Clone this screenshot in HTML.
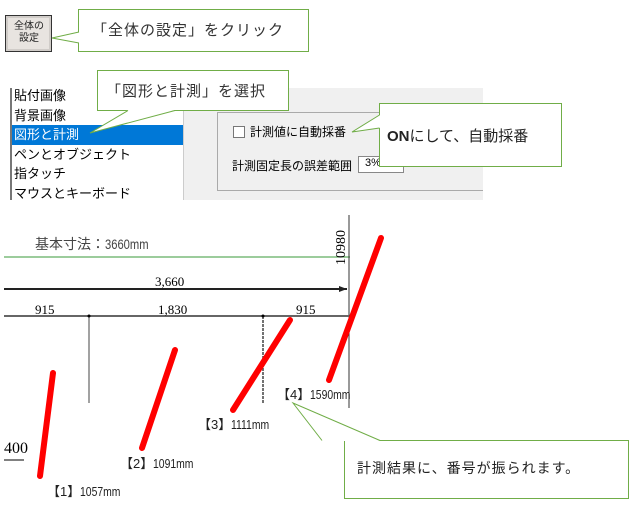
<!DOCTYPE html>
<html><head><meta charset="utf-8"><style>
body{margin:0;background:#fff;width:637px;height:518px;overflow:hidden;position:relative;font-family:"Liberation Sans","Noto Sans CJK JP",sans-serif;}
.a{position:absolute;white-space:nowrap;}
.s{font-family:"Liberation Serif","Noto Serif CJK SC",serif;}
.n{font-family:"Liberation Sans Narrow","Liberation Sans","Noto Sans CJK JP",sans-serif;transform:scaleX(0.8);transform-origin:left;}
</style></head><body>
<div class="a" style="left:5px;top:15px;width:47px;height:37px;background:#e8e4e0;border:1px solid #333;box-sizing:border-box;box-shadow:inset 0 0 0 2px #d0ccc8"></div>
<div class="a" style="left:11px;top:21px;font-size:10px;line-height:12px;color:#222;text-align:center;width:36px">全体の<br>設定</div>
<div class="a" style="left:180px;top:88px;width:303px;height:112px;background:#f0f0f0"></div>
<div class="a" style="left:10px;top:88px;width:171px;height:112px;background:#fff;border-left:2px solid #777;border-right:1px solid #ccc;overflow:hidden">
<div style="font-size:13px;line-height:19.5px;color:#000;margin-top:-2px">
<div style="padding-left:2px">貼付画像</div>
<div style="padding-left:2px">背景画像</div>
<div style="padding-left:2px;background:#0078d7;color:#fff">図形と計測</div>
<div style="padding-left:2px">ペンとオブジェクト</div>
<div style="padding-left:2px">指タッチ</div>
<div style="padding-left:2px">マウスとキーボード</div>
</div></div>
<div class="a" style="left:217px;top:112px;width:266px;height:79px;border:1px solid #aaa;border-right:none;box-sizing:border-box"></div>
<div class="a" style="left:233px;top:126px;width:10px;height:10px;border:1px solid #777;background:#fff"></div>
<div class="a" style="left:250px;top:123px;font-size:12px;color:#000">計測値に自動採番</div>
<div class="a" style="left:232px;top:157px;font-size:12px;color:#000">計測固定長の誤差範囲</div>
<div class="a" style="left:358px;top:156px;width:46px;height:17px;border:1px solid #888;background:#fff;font-size:11px;box-sizing:border-box;padding-left:6px">3%</div>

<svg class="a" style="left:0;top:0" width="637" height="518">
<line x1="4" y1="257" x2="350" y2="257" stroke="#3a9a3a" stroke-width="1"/>
<line x1="349" y1="215" x2="349" y2="408" stroke="#333" stroke-width="1"/>
<line x1="4" y1="289" x2="347" y2="289" stroke="#222" stroke-width="2"/>
<polygon points="347,289 339,286 339,292" fill="#222"/>
<line x1="4" y1="316" x2="349" y2="316" stroke="#666" stroke-width="2"/>
<line x1="89" y1="316" x2="89" y2="403" stroke="#444" stroke-width="1"/>
<line x1="263" y1="316" x2="263" y2="403" stroke="#444" stroke-width="1.5" stroke-dasharray="3,1"/>
<circle cx="89" cy="316" r="1.5" fill="#000"/><circle cx="263" cy="316" r="1.5" fill="#000"/>
<g stroke="#f00" stroke-width="6" stroke-linecap="round">
<line x1="53" y1="373" x2="40" y2="476"/>
<line x1="175" y1="350" x2="142" y2="448"/>
<line x1="290" y1="320" x2="233" y2="410"/>
<line x1="381" y1="238" x2="329" y2="380"/>
</g>
<line x1="4" y1="460" x2="24" y2="460" stroke="#000" stroke-width="1"/>
<text x="345" y="265" transform="rotate(-90 345 265)" font-family="Liberation Serif" font-size="14" fill="#000">10980</text>
<g fill="#fff" stroke="#70ad47" stroke-width="1">
<rect x="78.5" y="9.5" width="230" height="42"/>
<polygon points="79,32 52,38 79,43" stroke="none"/>
<polyline points="79,32 52,38 79,43" fill="none"/>
<rect x="97.5" y="70.5" width="191" height="40"/>
<polygon points="128,110 90,133 175,110" stroke="none"/>
<polyline points="128,110.5 90,133 175,110.5" fill="none"/>
<rect x="379.5" y="103.5" width="182" height="63"/>
<polygon points="380,115 352,132 380,128" stroke="none"/>
<polyline points="379.5,115 352,132 379.5,128" fill="none"/>
<rect x="344.5" y="440.5" width="284" height="58"/>
<polygon points="322,441 293,403 380,441" stroke="none"/>
<polyline points="322,440.5 293,403 380,440.5" fill="none"/>
</g>
</svg>
<div class="a" style="left:92px;top:19px;font-size:15px;color:#333;letter-spacing:1px">「全体の設定」をクリック</div>
<div class="a" style="left:106px;top:80px;font-size:15px;color:#333;letter-spacing:1px">「図形と計測」を選択</div>
<div class="a" style="left:387px;top:125px;font-size:15px;color:#222"><b>ON</b>にして、自動採番</div>
<div class="a" style="left:357px;top:458px;font-size:14px;color:#222;letter-spacing:1px">計測結果に、番号が振られます。</div>

<div class="a" style="left:35px;top:234px;font-size:14px;color:#444">基本寸法：<span class="n" style="display:inline-block">3660mm</span></div>
<div class="a s" style="left:155px;top:274px;font-size:13px">3,660</div>
<div class="a s" style="left:35px;top:302px;font-size:13px">915</div>
<div class="a s" style="left:158px;top:302px;font-size:13px">1,830</div>
<div class="a s" style="left:296px;top:302px;font-size:13px">915</div>
<div class="a s" style="left:4px;top:440px;font-size:16px">400</div>
<div class="a" style="left:47px;top:481px;font-size:13px;color:#222">【1】<span class="n" style="display:inline-block">1057mm</span></div>
<div class="a" style="left:120px;top:453px;font-size:13px;color:#222">【2】<span class="n" style="display:inline-block">1091mm</span></div>
<div class="a" style="left:198px;top:414px;font-size:13px;color:#222">【3】<span class="n" style="display:inline-block">1111mm</span></div>
<div class="a" style="left:277px;top:384px;font-size:13px;color:#222">【4】<span class="n" style="display:inline-block">1590mm</span></div>
</body></html>
